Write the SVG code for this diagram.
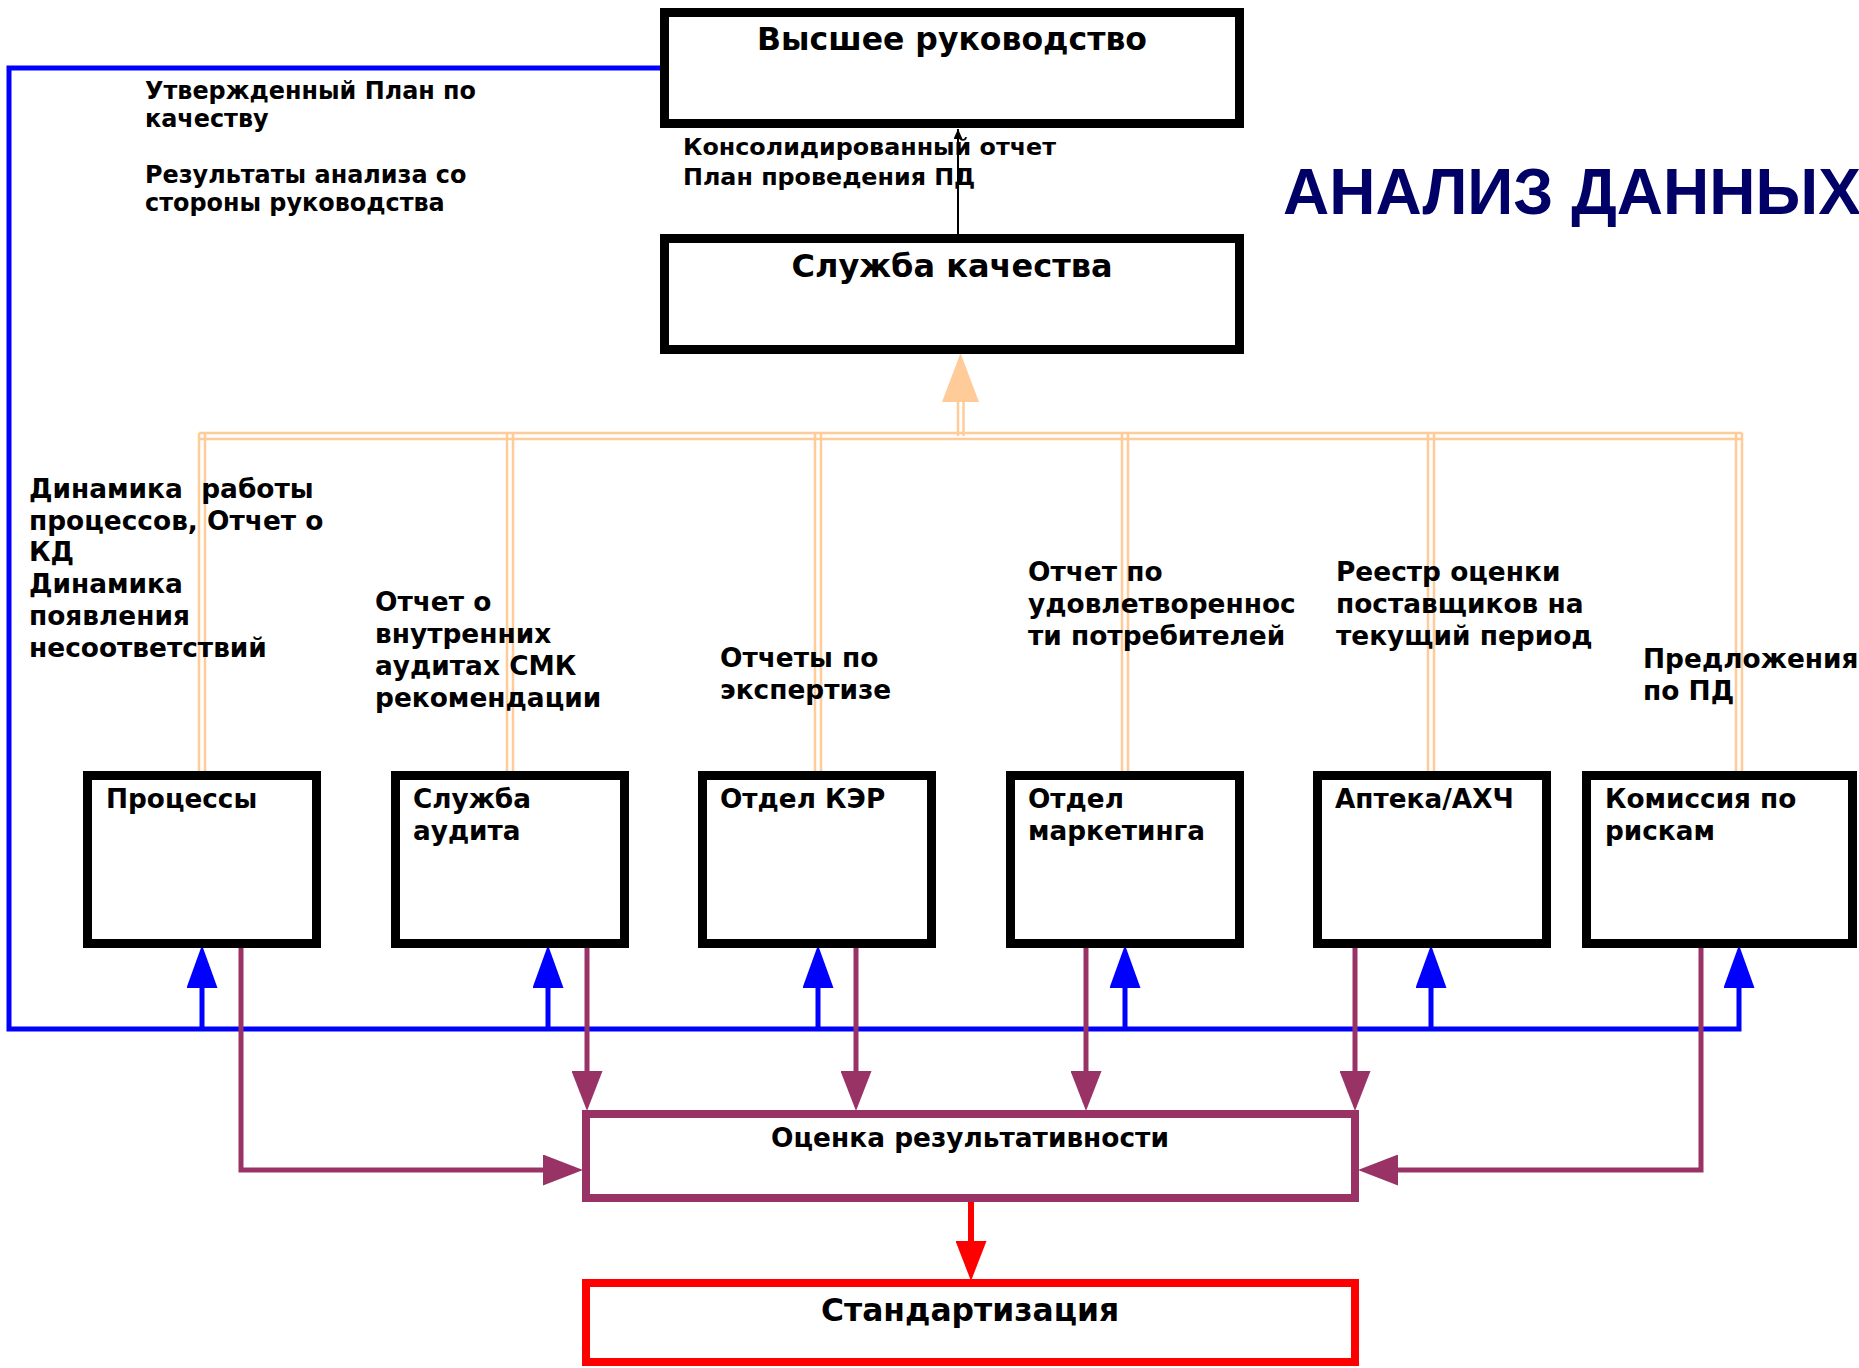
<svg xmlns="http://www.w3.org/2000/svg" width="1859" height="1368" viewBox="0 0 1859 1368">
<style>
  .t { font-family: "DejaVu Sans", Verdana, sans-serif; font-weight: bold; fill: #000; }
  .box { fill: #fff; stroke: #000; stroke-width: 9; }
  .blue { fill: none; stroke: #0000FF; stroke-width: 5; }
  .purple { fill: none; stroke: #993366; stroke-width: 5; }
  .peach { fill: none; stroke: #FFCC99; stroke-width: 2.5; }
</style>
<defs>
  <marker id="ab" markerUnits="userSpaceOnUse" markerWidth="43" markerHeight="31" viewBox="0 0 43 31" refX="0" refY="15.5" orient="auto"><path d="M0,0 L43,15.5 L0,31 z" fill="#0000FF"/></marker>
  <marker id="ap" markerUnits="userSpaceOnUse" markerWidth="40" markerHeight="31" viewBox="0 0 40 31" refX="0" refY="15.5" orient="auto"><path d="M0,0 L40,15.5 L0,31 z" fill="#993366"/></marker>
  <marker id="ar" markerUnits="userSpaceOnUse" markerWidth="40" markerHeight="31" viewBox="0 0 40 31" refX="0" refY="15.5" orient="auto"><path d="M0,0 L40,15.5 L0,31 z" fill="#FF0000"/></marker>
  <marker id="ak" markerUnits="userSpaceOnUse" markerWidth="10" markerHeight="9" viewBox="0 0 10 9" refX="10" refY="4.5" orient="auto"><path d="M0,0 L10,4.5 L0,9 z" fill="#000"/></marker>
</defs>
<rect width="1859" height="1368" fill="#fff"/>

<g id="connectors">
  <path class="blue" d="M660,68 H9 V1029 H1739 V988" marker-end="url(#ab)"/>
  <line class="blue" x1="202" y1="1029" x2="202" y2="988" marker-end="url(#ab)"/>
  <line class="blue" x1="548" y1="1029" x2="548" y2="988" marker-end="url(#ab)"/>
  <line class="blue" x1="818" y1="1029" x2="818" y2="988" marker-end="url(#ab)"/>
  <line class="blue" x1="1125" y1="1029" x2="1125" y2="988" marker-end="url(#ab)"/>
  <line class="blue" x1="1431" y1="1029" x2="1431" y2="988" marker-end="url(#ab)"/>
  <line class="peach" x1="199" y1="433" x2="1742" y2="433"/>
  <line class="peach" x1="199" y1="439" x2="1742" y2="439"/>
  <line class="peach" x1="199" y1="433" x2="199" y2="771"/><line class="peach" x1="205" y1="433" x2="205" y2="771"/>
  <line class="peach" x1="507" y1="433" x2="507" y2="771"/><line class="peach" x1="513" y1="433" x2="513" y2="771"/>
  <line class="peach" x1="815" y1="433" x2="815" y2="771"/><line class="peach" x1="821" y1="433" x2="821" y2="771"/>
  <line class="peach" x1="1122" y1="433" x2="1122" y2="771"/><line class="peach" x1="1128" y1="433" x2="1128" y2="771"/>
  <line class="peach" x1="1428" y1="433" x2="1428" y2="771"/><line class="peach" x1="1434" y1="433" x2="1434" y2="771"/>
  <line class="peach" x1="1736" y1="433" x2="1736" y2="771"/><line class="peach" x1="1742" y1="433" x2="1742" y2="771"/>
  <line class="peach" x1="958" y1="436" x2="958" y2="401"/><line class="peach" x1="963.5" y1="436" x2="963.5" y2="401"/>
  <polygon points="960.5,353 942,402 979,402" fill="#FFCC99"/>
  <line x1="958" y1="234" x2="958" y2="129" stroke="#000" stroke-width="2" marker-end="url(#ak)"/>
  <path class="purple" d="M241,945 V1170 H543" marker-end="url(#ap)"/>
  <line class="purple" x1="587" y1="945" x2="587" y2="1071" marker-end="url(#ap)"/>
  <line class="purple" x1="856" y1="945" x2="856" y2="1071" marker-end="url(#ap)"/>
  <line class="purple" x1="1086" y1="945" x2="1086" y2="1071" marker-end="url(#ap)"/>
  <line class="purple" x1="1355" y1="945" x2="1355" y2="1071" marker-end="url(#ap)"/>
  <path class="purple" d="M1701,945 V1170 H1398" marker-end="url(#ap)"/>
  <line x1="971" y1="1198" x2="971" y2="1241" stroke="#FF0000" stroke-width="6" marker-end="url(#ar)"/>
</g>

<g id="top-management">
  <rect class="box" x="664.5" y="12.5" width="575" height="111"/>
  <text class="t" x="952" y="50" font-size="31.5" text-anchor="middle">Высшее руководство</text>
</g>
<g id="quality-service">
  <rect class="box" x="664.5" y="238.5" width="575" height="111"/>
  <text class="t" x="952" y="277" font-size="32" text-anchor="middle">Служба качества</text>
</g>
<g id="processes">
  <rect class="box" x="87.5" y="775.5" width="229" height="168"/>
  <text class="t" x="106" y="808" font-size="26.3">Процессы</text>
</g>
<g id="audit">
  <rect class="box" x="395.5" y="775.5" width="229" height="168"/>
  <text class="t" x="413" y="808" font-size="26.3">Служба</text>
  <text class="t" x="413" y="840" font-size="26.3">аудита</text>
</g>
<g id="ker">
  <rect class="box" x="702.5" y="775.5" width="229" height="168"/>
  <text class="t" x="720" y="808" font-size="26.3">Отдел КЭР</text>
</g>
<g id="marketing">
  <rect class="box" x="1010.5" y="775.5" width="229" height="168"/>
  <text class="t" x="1028" y="808" font-size="26.3">Отдел</text>
  <text class="t" x="1028" y="840" font-size="26.3">маркетинга</text>
</g>
<g id="pharmacy">
  <rect class="box" x="1317.5" y="775.5" width="229" height="168"/>
  <text class="t" x="1335" y="808" font-size="26.3">Аптека/АХЧ</text>
</g>
<g id="risk">
  <rect class="box" x="1586.5" y="775.5" width="266" height="168"/>
  <text class="t" x="1605" y="808" font-size="26.3">Комиссия по</text>
  <text class="t" x="1605" y="840" font-size="26.3">рискам</text>
</g>
<g id="performance">
  <rect x="586" y="1114" width="769" height="84" fill="#fff" stroke="#993366" stroke-width="8"/>
  <text class="t" x="970" y="1147" font-size="26.4" text-anchor="middle">Оценка результативности</text>
</g>
<g id="standardization">
  <rect x="586" y="1283" width="769" height="79" fill="#fff" stroke="#FF0000" stroke-width="8"/>
  <text class="t" x="970" y="1321" font-size="31.4" text-anchor="middle">Стандартизация</text>
</g>

<g id="labels">
  <text x="1283" y="214" font-family="'Liberation Sans', Arial, sans-serif" font-weight="bold" font-size="64" fill="#000066">АНАЛИЗ ДАННЫХ</text>
  <text class="t" font-size="23.9"><tspan x="145" y="99">Утвержденный План по</tspan><tspan x="145" y="127">качеству</tspan><tspan x="145" y="183">Результаты анализа со</tspan><tspan x="145" y="211">стороны руководства</tspan></text>
  <text class="t" font-size="23.8"><tspan x="683" y="155">Консолидированный отчет</tspan><tspan x="683" y="185">План проведения ПД</tspan></text>
  <text class="t" font-size="26.4" xml:space="preserve"><tspan x="29" y="498">Динамика  работы</tspan><tspan x="29" y="530">процессов, Отчет о</tspan><tspan x="29" y="561">КД</tspan><tspan x="29" y="593">Динамика</tspan><tspan x="29" y="625">появления</tspan><tspan x="29" y="657">несоответствий</tspan></text>
  <text class="t" font-size="26.4"><tspan x="375" y="611">Отчет о</tspan><tspan x="375" y="643">внутренних</tspan><tspan x="375" y="675">аудитах СМК</tspan><tspan x="375" y="707">рекомендации</tspan></text>
  <text class="t" font-size="26.4"><tspan x="720" y="667">Отчеты по</tspan><tspan x="720" y="699">экспертизе</tspan></text>
  <text class="t" font-size="26.4"><tspan x="1028" y="581">Отчет по</tspan><tspan x="1028" y="613">удовлетвореннос</tspan><tspan x="1028" y="645">ти потребителей</tspan></text>
  <text class="t" font-size="26.4"><tspan x="1336" y="581">Реестр оценки</tspan><tspan x="1336" y="613">поставщиков на</tspan><tspan x="1336" y="645">текущий период</tspan></text>
  <text class="t" font-size="26.4"><tspan x="1643" y="668">Предложения</tspan><tspan x="1643" y="700">по ПД</tspan></text>
</g>
</svg>
